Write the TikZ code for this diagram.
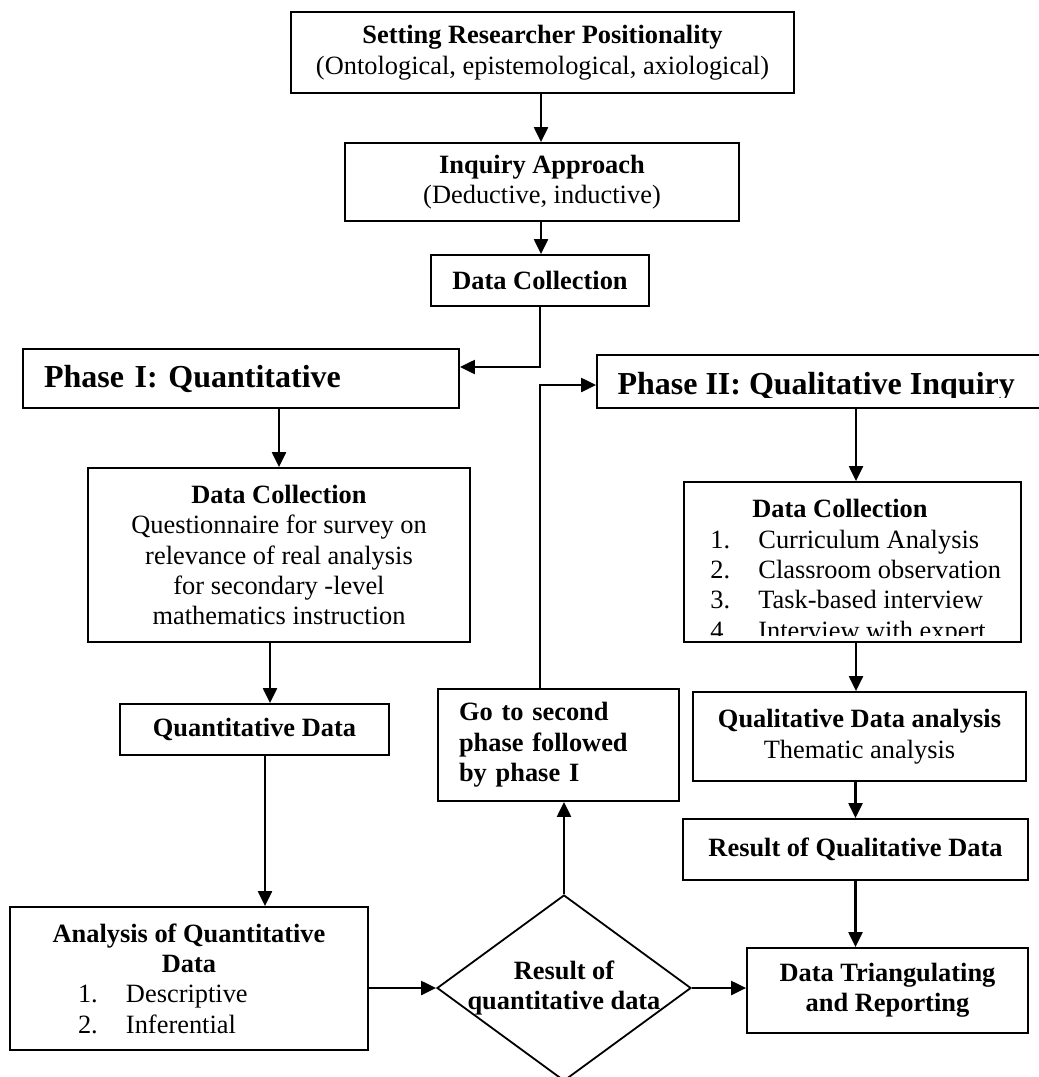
\documentclass[tikz,border=0pt]{standalone}
\usepackage{fontspec}
\setmainfont{Liberation Serif}
\usetikzlibrary{arrows.meta,shapes.geometric}
\newcommand{\itm}[2]{\makebox[24pt][l]{#1}#2}
\begin{document}
\begin{tikzpicture}[x=.5pt,y=-.5pt,
  box/.style={draw,line width=.9pt,align=center,inner sep=0pt,font=\fontsize{13.2}{15.2}\selectfont},
  bbox/.style={box,font=\fontsize{13.2}{15.2}\selectfont\bfseries},
  ttl/.style={box,font=\fontsize{16}{18}\selectfont\bfseries},
  arr/.style={line width=1.1pt,-{Triangle[length=7.5pt,width=7pt]}}]
  \clip (0,0) rectangle (1039,1077);
  \node[box,minimum width=251.5pt,minimum height=40.5pt] (pos) at (542.5,52.5)
    {\textbf{Setting Researcher Positionality}\\(Ontological, epistemological, axiological)};
  \node[box,minimum width=197pt,minimum height=39pt] (inq) at (542,182)
    {\textbf{Inquiry Approach}\\(Deductive, inductive)};
  \node[bbox,minimum width=109pt,minimum height=25.5pt] (dc0) at (540,280.5) {Data Collection};
  \node[ttl,align=left,text width=197pt,inner xsep=10.5pt,minimum height=29.5pt] (ph1) at (241,378.5)
    {Phase I: Quantitative};
  \node[ttl,minimum width=259pt,minimum height=26.5pt] (ph2) at (856,381.5) {};
  \begin{scope}
    \clip (ph2.north west) rectangle ([yshift=5.5pt]ph2.south east);
    \node[font=\fontsize{16}{18}\selectfont\bfseries,anchor=base west,inner sep=0pt] (ph2t)
      at ([xshift=10.5pt,yshift=-6.25pt]ph2.west) {Phase II: Qualitative Inquiry};
  \end{scope}
  \node[box,minimum width=191pt,minimum height=87pt] (dc1) at (279,555)
    {\textbf{Data Collection}\\Questionnaire for survey on\\ relevance of real analysis\\for secondary -level\\mathematics instruction};
  \node[box,minimum width=168.5pt,minimum height=80pt] (dc2) at (852.5,562) {};
  \begin{scope}
    \clip (dc2.north west) rectangle ([yshift=3.5pt]dc2.south east);
    \node[font=\fontsize{13.2}{15.2}\selectfont,align=left,anchor=north west,inner sep=0pt] (dc2t) at (710,499)
      {\hspace*{21pt}\textbf{Data Collection}\\\itm{1.}{Curriculum Analysis}\\\itm{2.}{Classroom observation}\\
       \itm{3.}{Task-based interview}\\\itm{4.}{Interview with expert}};
  \end{scope}
  \node[bbox,minimum width=134.5pt,minimum height=25.5pt] (qd) at (254.5,729.5) {Quantitative Data};
  \node[box,minimum width=179pt,minimum height=71.5pt] (ana) at (189,978.5)
    {\textbf{Analysis of Quantitative}\\\textbf{Data}\\\makebox[111pt][l]{\itm{1.}{Descriptive}}\\\makebox[111pt][l]{\itm{2.}{Inferential}}};
  \node[draw,diamond,aspect=1.366,minimum width=127pt,minimum height=93pt,inner sep=-2pt,line width=.9pt,
    font=\fontsize{13.2}{15.2}\selectfont\bfseries,align=center] (res) at (564,988) {Result of\\quantitative data};
  \node[bbox,align=left,text width=99.5pt,inner xsep=10.5pt,minimum height=56pt] (go) at (558.5,745)
    {Go to second\\phase followed\\by phase I};
  \node[box,minimum width=166.5pt,minimum height=44.5pt] (qda) at (859.5,736.5)
    {\textbf{Qualitative Data analysis}\\Thematic analysis};
  \node[bbox,minimum width=172.5pt,minimum height=30.5pt] (rqd) at (855.5,849.5) {Result of Qualitative Data};
  \node[bbox,minimum width=140.5pt,minimum height=42.5pt] (dt) at (887.5,990.5) {Data Triangulating\\and Reporting};

  \draw[arr] ([xshift=-.75pt]pos.south) -- ([xshift=-.75pt]pos.south |- inq.north);
  \draw[arr] ([xshift=-.5pt]inq.south) -- ([xshift=-.5pt]inq.south |- dc0.north);
  \draw[arr] (dc0.south) |- ([yshift=5.75pt]ph1.east);
  \draw[arr] (dc1.north |- ph1.south) -- (dc1.north);
  \draw[arr] ([xshift=-4.5pt]dc1.south) -- ([xshift=-4.5pt]dc1.south |- qd.north);
  \draw[arr] ([xshift=5.25pt]qd.south) -- ([xshift=5.25pt]qd.south |- ana.north);
  \draw[arr] (ana.east |- res.west) -- (res.west);
  \draw[arr] (res.east) -- (res.east -| dt.west);
  \draw[arr] (res.north) -- (res.north |- go.south);
  \draw[arr] ([xshift=-9.25pt]go.north) |- ([yshift=-1.75pt]ph2.west);
  \draw[arr] (ph2.south) -- (ph2.south |- dc2.north);
  \draw[arr] ([xshift=1.75pt]dc2.south) -- ([xshift=1.75pt]dc2.south |- qda.north);
  \draw[arr] (rqd.north |- qda.south) -- (rqd.north);
  \draw[arr] (rqd.south) -- (rqd.south |- dt.north);
\end{tikzpicture}
\end{document}
